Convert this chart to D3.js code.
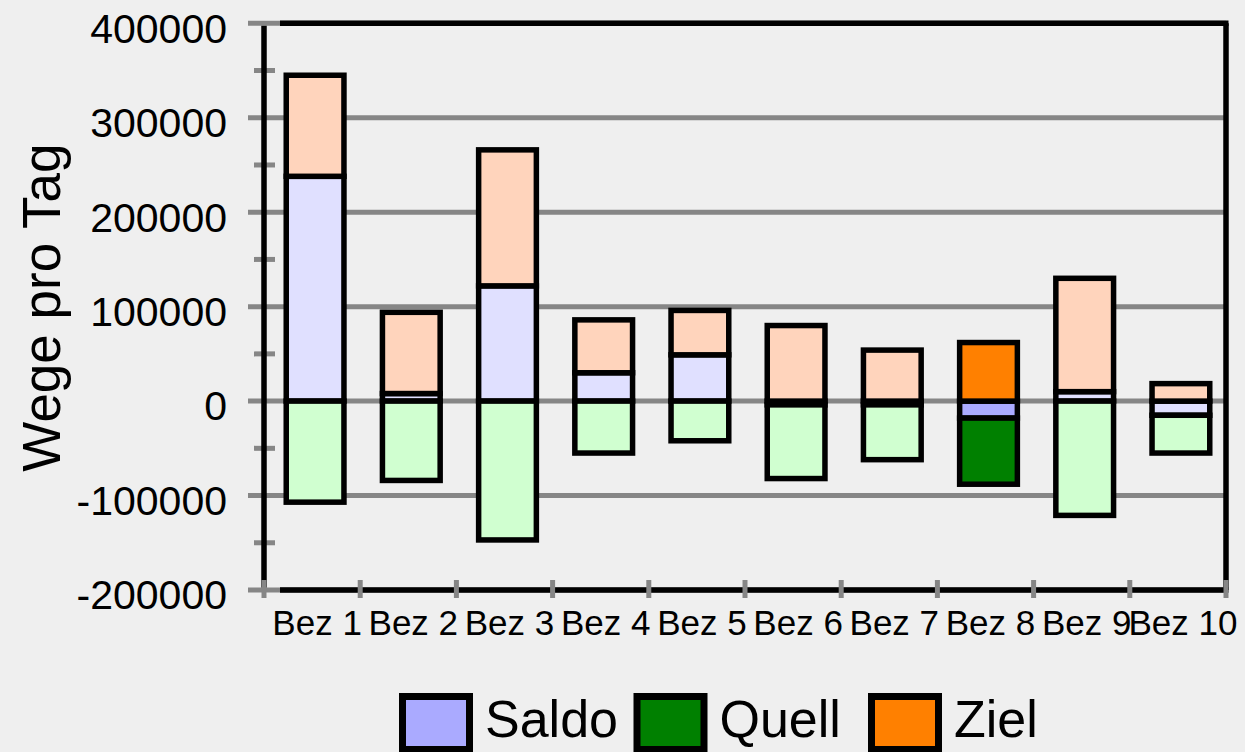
<!DOCTYPE html>
<html>
<head>
<meta charset="utf-8">
<title>Wege pro Tag</title>
<script src="https://d3js.org/d3.v7.min.js"></script>
<style>
  body { margin: 0; background: #efefef; }
  svg text { font-family: "Liberation Sans", Arial, sans-serif; fill: #000; }
</style>
</head>
<body>
<div id="chart"></div>
<script>
// data
const districts = ["Bez 1", "Bez 2", "Bez 3", "Bez 4", "Bez 5", "Bez 6", "Bez 7", "Bez 8", "Bez 9", "Bez 10"];
const saldo = [238000, 8000, 122000, 30000, 49000, -4000, -4000, -18000, 10000, -15000];
const quell = [-107000, -84000, -147000, -55000, -42000, -78000, -58000, -70000, -121000, -40000];
const ziel = [107000, 86000, 144000, 56000, 47000, 80000, 54000, 62000, 120000, 18500];
const yTicks = [-200000, -100000, 0, 100000, 200000, 300000, 400000];
const seriesNames = ["Saldo", "Quell", "Ziel"];
const highlighted = "Bez 8";

const paleColors = {Saldo: "#e0e0ff", Quell: "#d0ffd0", Ziel: "#ffd4bc"};
const fullColors = {Saldo: "#aaaaff", Quell: "#008000", Ziel: "#ff8000"};
const gridColor = "#868686";

let width = 1245, height = 752;
let plot = {left: 264, right: 1226, top: 23.3, bottom: 590};

let svg = d3.select("#chart")
    .append("svg")
        .attr("width", width)
        .attr("height", height);

let x = d3.scaleBand()
    .domain(districts)
    .range([plot.left, plot.right]);
let y = d3.scaleLinear()
    .domain([-200000, 400000])
    .range([plot.bottom, plot.top]);

// gridlines (gray), incl. the top and bottom ones which stick out to the left
svg.append("g")
    .selectAll("line")
    .data(yTicks)
    .enter()
    .append("line")
        .attr("x1", 248)
        .attr("x2", plot.right)
        .attr("y1", d => y(d))
        .attr("y2", d => y(d))
        .attr("stroke", gridColor)
        .attr("stroke-width", 5);

// minor ticks between the major ones
svg.append("g")
    .selectAll("line")
    .data(yTicks.slice(1).map(d => d - 50000))
    .enter()
    .append("line")
        .attr("x1", 254)
        .attr("x2", 275)
        .attr("y1", d => y(d))
        .attr("y2", d => y(d))
        .attr("stroke", gridColor)
        .attr("stroke-width", 5);

// stacked bars, positive and negative parts stacked apart
let table = districts.map((d, i) => ({district: d, Saldo: saldo[i], Quell: quell[i], Ziel: ziel[i]}));
let stacked = d3.stack()
    .keys(seriesNames)
    .offset(d3.stackOffsetDiverging)(table);

let barW = x.bandwidth() * 0.6;
let barShift = 3;

svg.append("g")
    .selectAll("g")
    .data(stacked)
    .enter()
    .append("g")
    .selectAll("rect")
    .data(s => s.map(p => ({key: s.key, p: p})))
    .enter()
    .filter(d => d.p[1] !== d.p[0])
    .append("rect")
        .attr("x", d => x(d.p.data.district) + (x.bandwidth() - barW) / 2 + barShift)
        .attr("width", barW)
        .attr("y", d => y(Math.max(d.p[0], d.p[1])))
        .attr("height", d => Math.abs(y(d.p[0]) - y(d.p[1])))
        .attr("fill", d => d.p.data.district === highlighted ? fullColors[d.key] : paleColors[d.key])
        .attr("stroke", "#000")
        .attr("stroke-width", 5.5);

// frame
let frame = svg.append("g").attr("stroke", "#000").attr("stroke-width", 5.5);
frame.append("line").attr("x1", 280).attr("x2", plot.right + 2.5).attr("y1", plot.top).attr("y2", plot.top);
frame.append("line").attr("x1", plot.right).attr("x2", plot.right).attr("y1", plot.top).attr("y2", plot.bottom);
frame.append("line").attr("x1", 280).attr("x2", plot.right + 2.5).attr("y1", plot.bottom).attr("y2", plot.bottom);
frame.append("line").attr("x1", plot.left).attr("x2", plot.left).attr("y1", plot.top + 2.5).attr("y2", plot.bottom - 2.5);

// x ticks on category borders
svg.append("g")
    .selectAll("line")
    .data(districts.map(d => x(d)).concat([plot.right]))
    .enter()
    .append("line")
        .attr("x1", d => d)
        .attr("x2", d => d)
        .attr("y1", 580)
        .attr("y2", 598)
        .attr("stroke", gridColor)
        .attr("stroke-width", 5);

// y axis labels (plain hyphen as minus, like the original)
let yAxis = d3.axisLeft(y)
    .tickValues(yTicks)
    .tickSize(0)
    .tickPadding(37)
    .tickFormat(d => String(d));

let yg = svg.append("g")
    .attr("transform", "translate(" + plot.left + ",0)")
    .call(yAxis);
yg.select(".domain").remove();
yg.selectAll("text")
    .attr("dy", "0.46em")
    .attr("font-size", "41px")
    .attr("font-family", null);

// x axis labels
let xAxis = d3.axisBottom(x)
    .tickSize(0)
    .tickPadding(20);

let xg = svg.append("g")
    .attr("transform", "translate(5," + plot.bottom + ")")
    .call(xAxis);
xg.select(".domain").remove();
xg.selectAll("text")
    .attr("font-size", "35px")
    .attr("font-family", null);

// y title
svg.append("text")
    .attr("transform", "rotate(-90)")
    .attr("x", -(plot.top + plot.bottom) / 2 - 1)
    .attr("y", 60)
    .style("text-anchor", "middle")
    .attr("font-size", "53px")
    .text("Wege pro Tag");

// legend
let legend = svg.append("g")
    .selectAll("g")
    .data(seriesNames)
    .enter()
    .append("g")
        .attr("transform", (d, i) => "translate(" + (399 + i * 234.5) + ",693)");

legend.append("rect")
    .attr("x", 3.5)
    .attr("y", 3.5)
    .attr("width", 67)
    .attr("height", 53)
    .attr("fill", d => fullColors[d])
    .attr("stroke", "#000")
    .attr("stroke-width", 7);

legend.append("text")
    .attr("x", 86)
    .attr("y", 44)
    .attr("font-size", "52px")
    .text(d => d);
</script>
</body>
</html>
